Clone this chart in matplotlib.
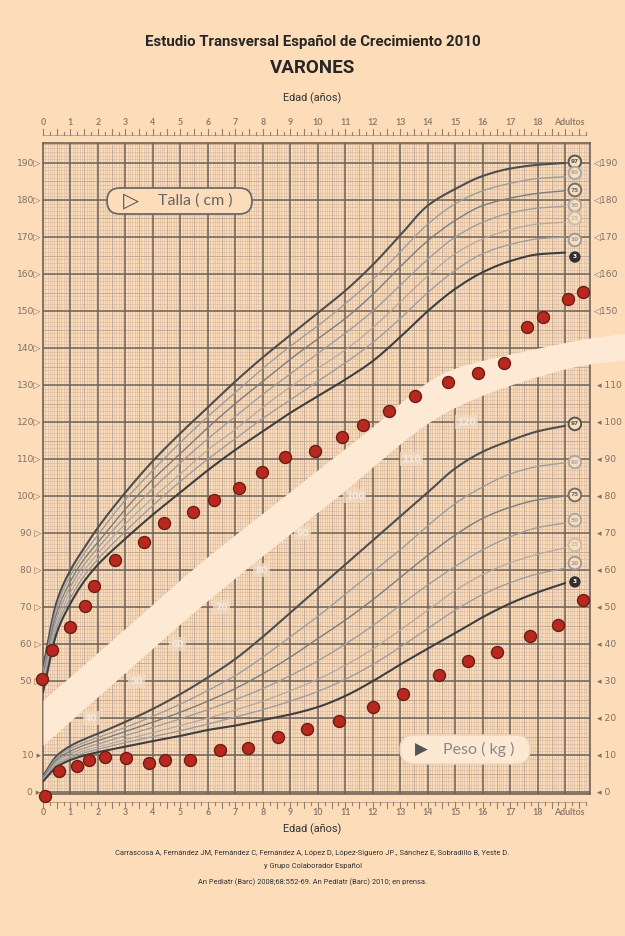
import numpy as np
import matplotlib
matplotlib.use('Agg')
import matplotlib.pyplot as plt
from matplotlib.patches import FancyBboxPatch
from matplotlib.transforms import IdentityTransform, blended_transform_factory

# ---------------- data ----------------
ages = [0, 0.5, 1, 1.5, 2, 3, 4, 5, 6, 7, 8, 9, 10, 11, 12, 13, 14, 15, 16, 17, 18, 19]
percentiles = ["97", "90", "75", "50", "25", "10", "3"]

height_p97 = [53.5, 71.5, 80, 86, 91.5, 101, 109.5, 117, 124, 131, 137.5, 143.5, 149.5, 155.5, 162.5, 170.5, 178.5, 183, 186.5, 188.5, 189.5, 190]
height_p90 = [52.5, 70, 78.5, 84.5, 89.5, 99, 107, 114.5, 121.5, 128, 134.5, 140.5, 146, 152, 158.5, 166, 173.5, 179, 182.5, 184.5, 185.8, 186.3]
height_p75 = [51.5, 68.5, 77, 83, 87.5, 96.5, 104.5, 111.5, 118.5, 125, 131, 137, 142.5, 148, 154.5, 162, 169, 174.5, 178.5, 180.5, 181.8, 182.5]
height_p50 = [50.5, 67, 75.5, 81.5, 86, 94.5, 102, 109, 115.5, 121.5, 127.5, 133, 138.5, 144, 150, 157, 164, 170, 174, 176.5, 177.8, 178.3]
height_p25 = [49.5, 65.5, 74, 80, 84.5, 92.5, 99.5, 106, 112.5, 118, 124, 129.5, 134.5, 139.5, 145.5, 152.5, 159.5, 165.5, 169.5, 172, 173.5, 174]
height_p10 = [48.5, 64.5, 72.5, 78.5, 83, 90.5, 97.5, 104, 110, 115.5, 121, 126, 131, 136, 141.5, 148, 155, 161, 165.5, 168, 169.5, 170]
height_p3 = [47, 63, 71, 77, 81.5, 88.5, 95, 101, 107, 112.5, 117.5, 122.5, 127, 131.5, 136.5, 143, 150, 156, 160.5, 163.5, 165.3, 165.8]

weight_p97 = [4.3, 9.8, 12.5, 14.3, 15.8, 19, 22.5, 26.5, 31, 36, 42, 48.5, 55, 61.5, 68, 74.5, 81, 87.5, 92, 95, 97.5, 99]
weight_p90 = [4.0, 9.3, 11.8, 13.4, 14.8, 17.5, 20.5, 23.8, 27.5, 31.5, 36.5, 42, 47.5, 53.5, 59.5, 65.5, 72, 78, 82.5, 86, 88, 89]
weight_p75 = [3.8, 8.8, 11.1, 12.7, 13.9, 16.4, 18.9, 21.6, 24.6, 28, 32, 36.5, 41.5, 46.5, 52, 58, 64, 69.5, 74, 77, 79, 80]
weight_p50 = [3.5, 8.3, 10.4, 11.9, 13, 15.3, 17.5, 19.8, 22.3, 25, 28, 31.5, 35.5, 40, 45, 50.5, 56, 61, 65.5, 69, 71.5, 72.7]
weight_p25 = [3.3, 7.8, 9.8, 11.2, 12.2, 14.2, 16.1, 18.0, 20.0, 22.2, 24.6, 27.4, 30.5, 34.3, 38.7, 43.8, 49.2, 54.5, 58.8, 62, 64.3, 66]
weight_p10 = [3.1, 7.4, 9.3, 10.6, 11.6, 13.4, 15.0, 16.6, 18.4, 20.3, 22.3, 24.6, 27.2, 30.5, 34.5, 39.2, 44.2, 49.2, 53.4, 56.6, 59, 60.5]
weight_p3 = [2.9, 6.8, 8.7, 9.9, 10.8, 12.3, 13.8, 15.2, 16.8, 18.0, 19.5, 21.0, 23.0, 26.0, 30.0, 34.5, 38.8, 43.0, 47.3, 51.0, 54.0, 56.5]

child_height_age = [-0.05, 0.34, 0.98, 1.53, 1.87, 2.62, 3.67, 4.4, 5.47, 6.22, 7.14, 7.96, 8.8, 9.9, 10.87, 11.65, 12.58, 13.54, 14.75, 15.83, 16.77, 17.6, 18.2, 19.1, 19.65]
child_height = [50.7, 58.4, 64.7, 70.3, 75.8, 82.7, 87.6, 92.8, 95.8, 98.9, 102.3, 106.5, 110.5, 112.2, 115.9, 119.3, 123, 127, 130.8, 133.3, 136, 145.6, 148.3, 153.3, 155.2]
child_weight_age = [0.08, 0.58, 1.22, 1.69, 2.25, 3.02, 3.84, 4.45, 5.36, 6.44, 7.47, 8.56, 9.62, 10.76, 11.99, 13.1, 14.4, 15.47, 16.53, 17.7, 18.74, 19.65]
child_weight = [-1.0, 5.7, 7.1, 8.8, 9.4, 9.3, 8.0, 8.8, 8.8, 11.5, 12.0, 15.0, 17.1, 19.1, 22.9, 26.5, 31.7, 35.4, 37.8, 42.2, 45.1, 51.9]

age_tick_labels = [str(i) for i in range(19)] + ["Adultos"]
height_axis_labels = [190, 180, 170, 160, 150, 140, 130, 120, 110, 100, 90, 80, 70, 60, 50]
height_axis_right = [190, 180, 170, 160, 150]
weight_axis_right = [110, 100, 90, 80, 70, 60, 50, 40, 30, 20, 10, 0]
weight_axis_left = [10, 0]
faint_labels = [40, 50, 60, 70, 80, 90, 100, 110, 120]

WOFF = 20  # weight w is drawn at w + 20 on the shared (height) scale

# ---------------- styles ----------------
BG = '#fcdcb9'
BAND = '#fde9d4'
MAJOR = '#6c625a'
MED = '#c2a692'
MINOR = '#d6baa3'
LBL = '#7f7064'

line_styles = {"97": ('#4e4e4e', 1.5), "90": ('#9c9c9c', 0.95), "75": ('#7c7c7c', 1.0),
               "50": ('#9c9c9c', 0.95), "25": ('#b4aa9e', 0.9), "10": ('#9c9c9c', 0.95),
               "3": ('#3e3e3e', 1.5)}
circle_styles = {"97": ('#555555', 'none', '#555555'), "90": ('#a8a8a8', 'none', '#a8a8a8'),
                 "75": ('#707070', 'none', '#707070'), "50": ('#a8a8a8', 'none', '#a8a8a8'),
                 "25": ('#c9bcae', 'none', '#c9bcae'), "10": ('#9c9c9c', 'none', '#9c9c9c'),
                 "3": ('#303030', '#303030', 'white')}

# band geometry (separator between height and weight areas)
band_top_age = [0, 2.8, 5.71, 8.51, 11.53, 14.8, 17.35, 19.89, 21.16]
band_top = [44.86, 62.97, 81.89, 98.38, 115.95, 134.05, 138.92, 142.70, 144.05]
band_bot_age = [0, 2.8, 5.71, 10.55, 14.8, 17.35, 19.89, 21.16]
band_bot = [32.70, 51.08, 70.0, 98.92, 123.24, 130.81, 135.68, 136.76]
faint_age = [1.75, 3.4, 4.9, 6.5, 7.95, 9.45, 11.35, 13.4, 15.4]


def pchip(x, y, xs):
    x = np.asarray(x, float); y = np.asarray(y, float); xs = np.asarray(xs, float)
    h = np.diff(x); d = np.diff(y) / h
    m = np.zeros_like(y)
    for k in range(1, len(x) - 1):
        if d[k - 1] * d[k] > 0:
            w1 = 2 * h[k] + h[k - 1]; w2 = h[k] + 2 * h[k - 1]
            m[k] = (w1 + w2) / (w1 / d[k - 1] + w2 / d[k])
    m[0] = d[0]; m[-1] = d[-1]
    idx = np.clip(np.searchsorted(x, xs) - 1, 0, len(h) - 1)
    t = (xs - x[idx]) / h[idx]
    h00 = 2 * t**3 - 3 * t**2 + 1; h10 = t**3 - 2 * t**2 + t
    h01 = -2 * t**3 + 3 * t**2; h11 = t**3 - t**2
    return h00 * y[idx] + h10 * h[idx] * m[idx] + h01 * y[idx + 1] + h11 * h[idx] * m[idx + 1]


W, H = 625, 936
fig = plt.figure(figsize=(W / 100, H / 100), dpi=100)
fig.patch.set_facecolor(BG)

# axes: pixel box x 43..590, y 143..794
ax = fig.add_axes([43 / W, (H - 794) / H, (590 - 43) / W, (794 - 143) / H])
XMIN, XMAX = 0, 19.9
YMIN, YMAX = 19.5, 195.4
ax.set_xlim(XMIN, XMAX)
ax.set_ylim(YMIN, YMAX)
ax.set_facecolor(BG)
ax.set_xticks([]); ax.set_yticks([])
for s in ax.spines.values():
    s.set_color(MAJOR); s.set_linewidth(1.2); s.set_zorder(1.5)

# grid
xs_minor = np.arange(0, XMAX, 1 / 12)
ys_minor = np.arange(20, YMAX, 1)
ax.vlines(xs_minor, YMIN, YMAX, color=MINOR, lw=0.42, zorder=1)
ax.hlines(ys_minor, XMIN, XMAX, color=MINOR, lw=0.42, zorder=1)
ax.vlines(np.arange(0.5, XMAX, 1), YMIN, YMAX, color=MED, lw=0.55, zorder=1.1)
ax.hlines(np.arange(25, YMAX, 10), XMIN, XMAX, color=MED, lw=0.55, zorder=1.1)
ax.vlines(np.arange(1, XMAX, 1), YMIN, YMAX, color=MAJOR, lw=1.1, zorder=1.2)
ax.hlines(np.arange(20, YMAX, 10), XMIN, XMAX, color=MAJOR, lw=1.1, zorder=1.2)

# faint inner labels
for a, v in zip(faint_age, faint_labels):
    ax.text(a, v, str(v), ha='center', va='center', fontsize=6.5, color='#f7e9dc',
            fontweight='bold', zorder=1.8,
            bbox=dict(boxstyle='square,pad=0.25', fc='#f2dac3', ec='none', alpha=0.75))

# separating band
bx = np.linspace(0, 21.16, 400)
ax.fill_between(bx, pchip(band_bot_age, band_bot, bx), pchip(band_top_age, band_top, bx),
                color=BAND, lw=0, zorder=2.6, clip_on=False)

# percentile curves
xs = np.linspace(0, 19, 400)
height_curves = [height_p97, height_p90, height_p75, height_p50, height_p25, height_p10, height_p3]
weight_curves = [weight_p97, weight_p90, weight_p75, weight_p50, weight_p25, weight_p10, weight_p3]
for p, hc, wc in zip(percentiles, height_curves, weight_curves):
    col, lw = line_styles[p]
    ax.plot(xs, pchip(ages, hc, xs), color=col, lw=lw, zorder=3, solid_capstyle='round')
    ax.plot(xs, pchip(ages, wc, xs) + WOFF, color=col, lw=lw, zorder=3, solid_capstyle='round')

# percentile badges at right end
h_badge_y = [190.3, 187.3, 182.7, 178.6, 175.1, 169.2, 164.6]
w_badge_y = [119.5, 109.2, 100.3, 93.5, 86.8, 81.9, 76.8]
for p, hy, wy in zip(percentiles, h_badge_y, w_badge_y):
    ec, fc, tc = circle_styles[p]
    for yy in (hy, wy):
        ax.text(19.35, yy, p, ha='center', va='center', fontsize=4.2, color=tc,
                fontweight='bold', zorder=6,
                bbox=dict(boxstyle='circle,pad=0.38', fc=(BG if fc == 'none' else fc),
                          ec=ec, lw=1.4))

# child data
ax.plot(child_height_age, child_height, 'o', ms=8.6, mfc='#b8281f', mec='#6d1d14', mew=1.0,
        zorder=7, clip_on=False)
ax.plot(child_weight_age, np.array(child_weight) + WOFF, 'o', ms=8.6, mfc='#b8281f',
        mec='#6d1d14', mew=1.0, zorder=7, clip_on=False)

# axis side labels
tl = blended_transform_factory(ax.transAxes, ax.transData)
for v in height_axis_labels:
    ax.text(-0.003, v, f"{v}▷" if v >= 100 else f"{v} ▷", transform=tl, ha='right', va='center',
            fontsize=6.6, color=LBL)
for v in weight_axis_left:
    ax.text(-0.004, v + WOFF, f"{v} ▸", transform=tl, ha='right', va='center',
            fontsize=6.6, color=LBL)
for v in height_axis_right:
    ax.text(1.008, v, f"◁{v}", transform=tl, ha='left', va='center', fontsize=6.6, color=LBL)
for v in weight_axis_right:
    ax.text(1.012, v + WOFF, f"◂ {v}", transform=tl, ha='left', va='center', fontsize=6.6, color=LBL)

# age rulers (top and bottom)
tb = blended_transform_factory(ax.transData, ax.transAxes)
tick_pos = np.arange(0, 19.76, 0.25)
for base, lab_y, d in ((1.0125, 1.031, 1), (-0.0125, -0.028, -1)):
    ax.plot([0, 19.75], [base, base], color='#b09c8a', lw=0.6, transform=tb, clip_on=False)
    for t in tick_pos:
        ln = 0.009 if abs(t * 2 - round(t * 2)) < 1e-6 else 0.005
        ax.plot([t, t], [base, base + d * ln], color='#94806f', lw=0.8, transform=tb, clip_on=False)
    for i, lab in enumerate(age_tick_labels):
        xp = i if lab != "Adultos" else 19.15
        ax.text(xp, lab_y, lab, transform=tb, ha='center', va='center', fontsize=6.4,
                color='#8f7e70', family='Lato', fontweight='bold')

# legend pills
def pill(x0, y0, x1, y1, fc, ec, lw):
    p = FancyBboxPatch((x0, H - y1), x1 - x0, y1 - y0,
                       boxstyle=f"round,pad=0,rounding_size={(y1 - y0) / 2}",
                       transform=IdentityTransform(), fc=fc, ec=ec, lw=lw, zorder=5)
    fig.patches.append(p)

pill(107, 188, 252, 214, BG, '#6a6a6a', 1.3)
fig.text(131 / W, 1 - 201 / H, "▷", ha='center', va='center', fontsize=15, color='#5a5a5a', zorder=6)
fig.text(195 / W, 1 - 201 / H, "Talla ( cm )", ha='center', va='center', fontsize=11.5,
         color='#666666', family='Lato', zorder=6)
pill(400, 735, 530, 764, '#fde8d3', '#ead3bc', 1.0)
fig.text(421 / W, 1 - 749.5 / H, "▶", ha='center', va='center', fontsize=12, color='#555555', zorder=6)
fig.text(479 / W, 1 - 749.5 / H, "Peso ( kg )", ha='center', va='center', fontsize=11.5,
         color='#8a8a8a', family='Lato', zorder=6)

# titles and texts
fig.text(0.5, 1 - 42 / H, "Estudio Transversal Español de Crecimiento 2010", ha='center', va='center',
         fontsize=10.8, fontweight='bold', color='#262626', family='Roboto')
fig.text(0.5, 1 - 68 / H, "VARONES", ha='center', va='center', fontsize=13.5,
         fontweight='bold', color='#262626', family='Roboto')
fig.text(0.5, 1 - 98 / H, "Edad (años)", ha='center', va='center', fontsize=7.8,
         color='#333333', family='Roboto')
fig.text(0.5, 1 - 829 / H, "Edad (años)", ha='center', va='center', fontsize=7.8,
         color='#333333', family='Roboto')
fig.text(0.5, 1 - 853 / H,
         "Carrascosa A, Fernández JM, Fernández C, Fernández A, López D, López-Siguero JP., Sánchez E, Sobradillo B, Yeste D.",
         ha='center', va='center', fontsize=5.45, color='#333333', family='Roboto')
fig.text(0.5, 1 - 866 / H, "y Grupo Colaborador Español", ha='center', va='center', fontsize=5.45,
         color='#333333', family='Roboto')
fig.text(0.5, 1 - 882 / H, "An Pediatr (Barc) 2008;68:552-69. An Pediatr (Barc) 2010; en prensa.",
         ha='center', va='center', fontsize=5.45, color='#333333', family='Roboto')

fig.savefig('out.png', dpi=100, facecolor=BG)
